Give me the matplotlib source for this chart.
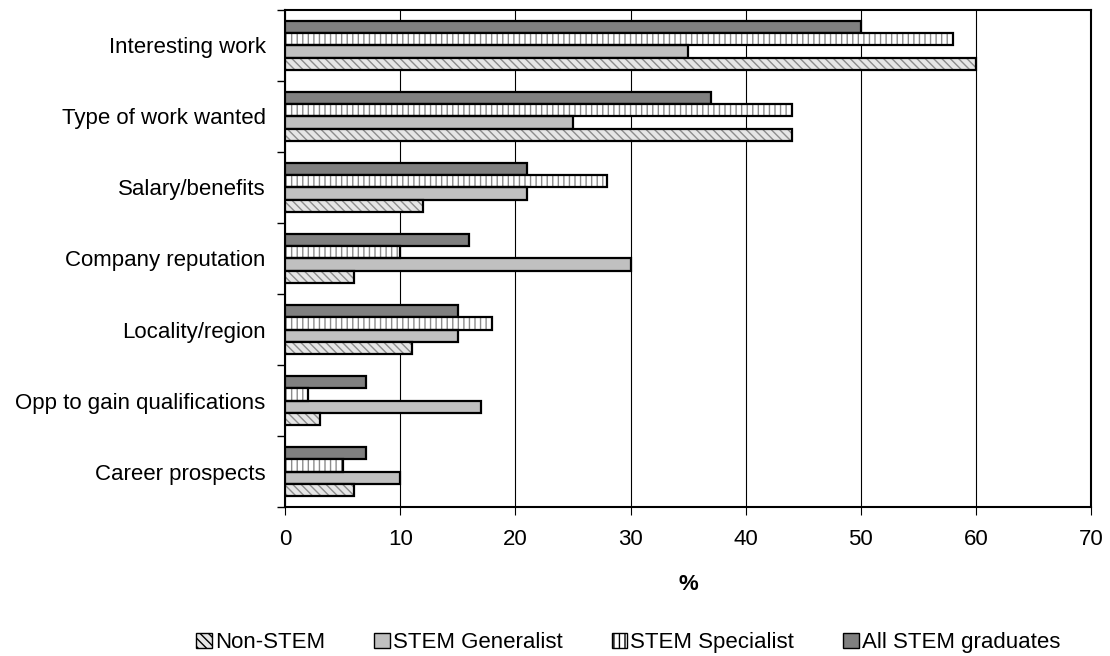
import matplotlib
matplotlib.use("Agg")
import matplotlib.pyplot as plt
from matplotlib.patches import Patch
import numpy as np

categories = ["Interesting work", "Type of work wanted", "Salary/benefits",
              "Company reputation", "Locality/region",
              "Opp to gain qualifications", "Career prospects"]
non_stem = [60, 44, 12, 6, 11, 3, 6]
stem_generalist = [35, 25, 21, 30, 15, 17, 10]
stem_specialist = [58, 44, 28, 10, 18, 2, 5]
all_stem = [50, 37, 21, 16, 15, 7, 7]
series_names = ["Non-STEM", "STEM Generalist", "STEM Specialist", "All STEM graduates"]

plt.rcParams['font.family'] = ['Liberation Sans', 'DejaVu Sans']
plt.rcParams['hatch.linewidth'] = 1.0

FS = 16

fig = plt.figure(figsize=(11.1, 6.56), dpi=100)
ax = fig.add_axes([0.2568, 0.2271, 0.7262, 0.7577])

n = len(categories)
y = np.arange(n)
h = 0.172
# order from top within group: all, specialist, generalist, non-stem
styles = [
    (all_stem, dict(facecolor="#808080", hatch=None, hcolor=None)),
    (stem_specialist, dict(facecolor="white", hatch="|||", hcolor="#8c8c8c")),
    (stem_generalist, dict(facecolor="#c0c0c0", hatch=None, hcolor=None)),
    (non_stem, dict(facecolor="#e6e6e6", hatch="\\\\\\\\", hcolor="#8c8c8c")),
]
for k, (vals, st) in enumerate(styles):
    pos = y + (k - 1.5) * h
    if st["hatch"]:
        ax.barh(pos, vals, height=h, color=st["facecolor"], edgecolor=st["hcolor"],
                hatch=st["hatch"], linewidth=0, zorder=3)
        ax.barh(pos, vals, height=h, fill=False, edgecolor="black", linewidth=1.6, zorder=4)
    else:
        ax.barh(pos, vals, height=h, color=st["facecolor"], edgecolor="black",
                linewidth=1.6, zorder=3)

ax.set_ylim(n - 0.5, -0.5)
ax.set_xlim(0, 70)
ax.set_xticks(np.arange(0, 71, 10))
ax.set_yticks(y)
ax.set_yticklabels(categories)
ax.set_yticks(np.arange(-0.5, n, 1), minor=True)
ax.tick_params(axis='y', which='major', length=0, pad=14, labelsize=FS)
ax.tick_params(axis='y', which='minor', length=6, direction='out', width=1)
ax.tick_params(axis='x', length=6, direction='out', labelsize=FS, pad=10)
ax.grid(axis='x', color='black', linewidth=0.8, zorder=0)
for s in ax.spines.values():
    s.set_linewidth(1.5)
    s.set_color('black')
ax.set_xlabel("%", fontsize=FS, fontweight='bold', labelpad=17)

handles = [
    Patch(facecolor="#e6e6e6", edgecolor="black", hatch="\\\\\\\\", linewidth=1),
    Patch(facecolor="#c0c0c0", edgecolor="black", linewidth=1),
    Patch(facecolor="white", edgecolor="black", hatch="|||", linewidth=1),
    Patch(facecolor="#808080", edgecolor="black", linewidth=1),
]
fig.legend(handles, series_names, loc='center', bbox_to_anchor=(0.566, 0.020),
           ncol=4, frameon=False, fontsize=FS, handlelength=0.7, handleheight=0.7,
           handletextpad=0.15, columnspacing=2.2)

fig.savefig("out.png", dpi=100)
